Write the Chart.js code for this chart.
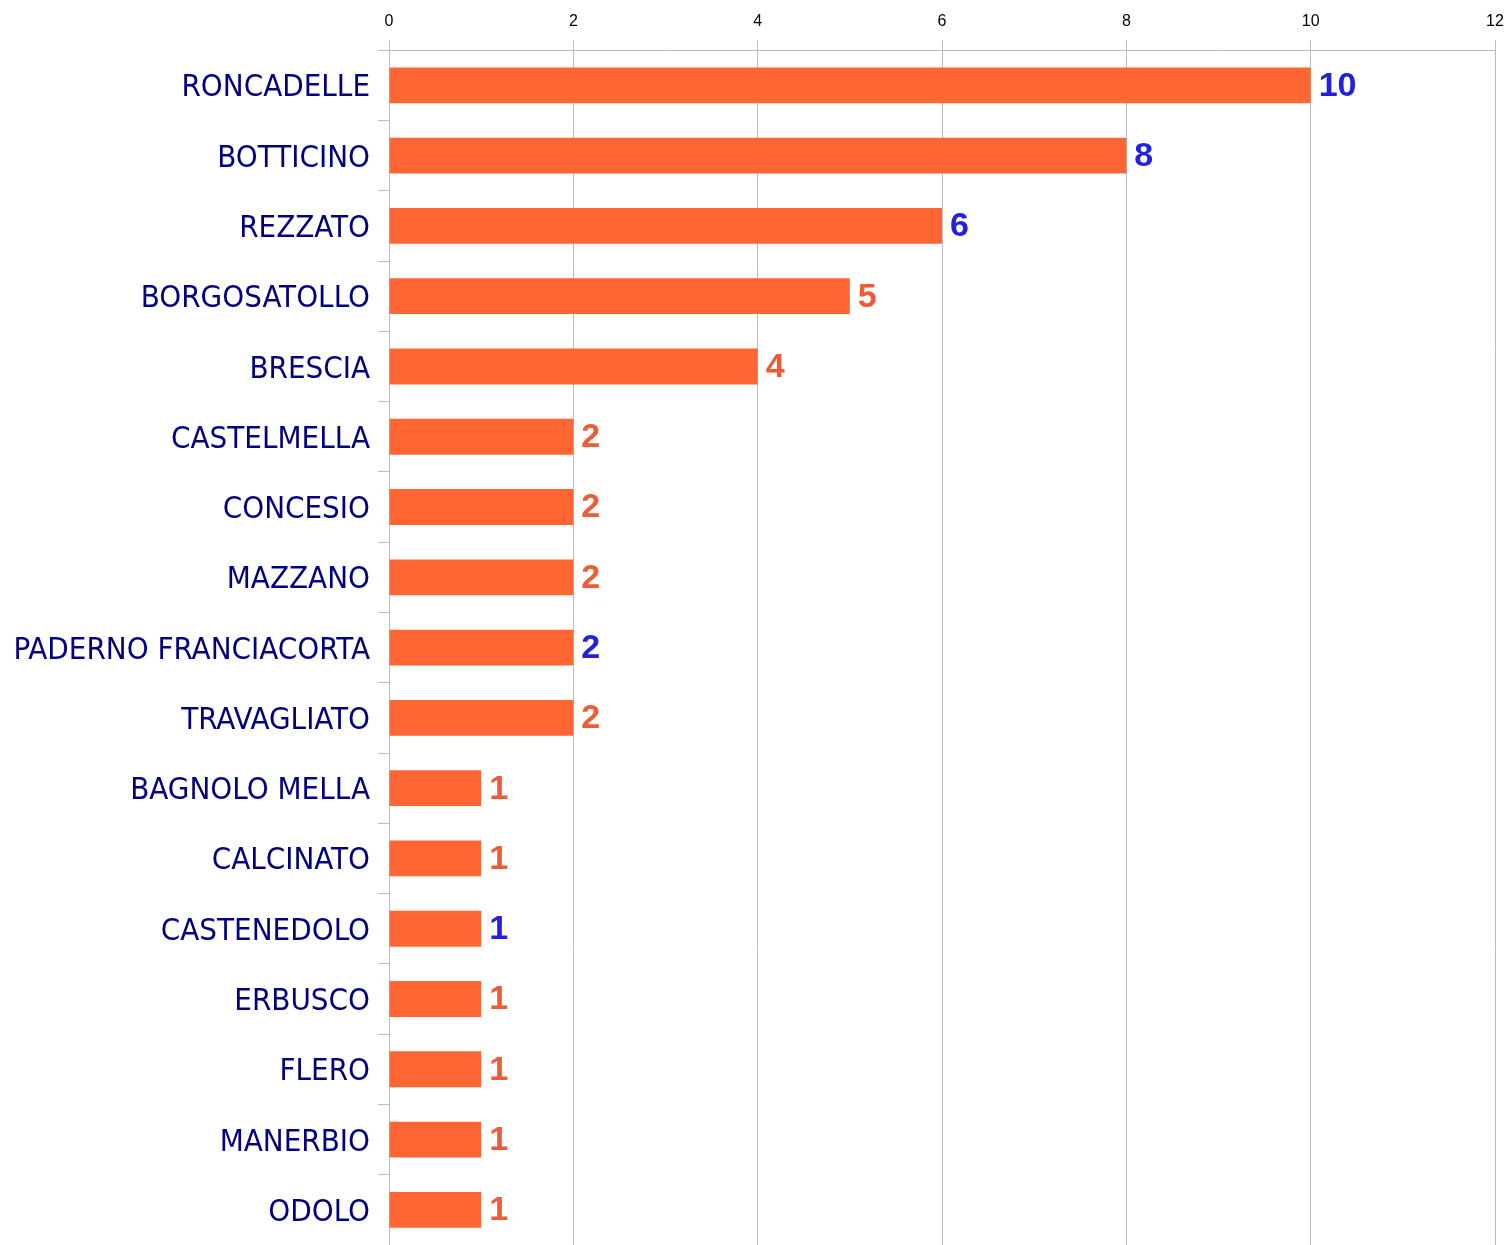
<!DOCTYPE html>
<html><head><meta charset="utf-8">
<script src="https://cdn.jsdelivr.net/npm/chart.js@4/dist/chart.umd.min.js"></script>
<style>html,body{margin:0;padding:0;background:#fff}#wrap{width:1508px;height:1245px}</style>
</head><body><div id="wrap"><canvas id="c"></canvas></div>
<script>
const categories = ["RONCADELLE","BOTTICINO","REZZATO","BORGOSATOLLO","BRESCIA","CASTELMELLA","CONCESIO","MAZZANO","PADERNO FRANCIACORTA","TRAVAGLIATO","BAGNOLO MELLA","CALCINATO","CASTENEDOLO","ERBUSCO","FLERO","MANERBIO","ODOLO"];
const values = [10,8,6,5,4,2,2,2,2,2,1,1,1,1,1,1,1];
const labelColors = ["#2222DD","#2222DD","#2222DD","#EE5B35","#EE5B35","#EE5B35","#EE5B35","#EE5B35","#2222DD","#EE5B35","#EE5B35","#EE5B35","#2222DD","#EE5B35","#EE5B35","#EE5B35","#EE5B35"];
const xTicks = [0,2,4,6,8,10,12];

const valueLabels = {
  id:'valueLabels',
  afterDatasetsDraw(chart){
    const ctx = chart.ctx;
    const meta = chart.getDatasetMeta(0);
    ctx.save();
    ctx.font = 'bold 34px "Liberation Sans", Arial, sans-serif';
    ctx.textAlign = 'left';
    ctx.textBaseline = 'middle';
    meta.data.forEach((bar,i)=>{
      ctx.fillStyle = labelColors[i];
      ctx.fillText(String(values[i]), bar.x + 8, bar.y + 1);
    });
    ctx.restore();
  }
};

new Chart(document.getElementById('c'), {
  type:'bar',
  data:{labels:categories, datasets:[{data:values, backgroundColor:'#FF6633', borderWidth:0, barPercentage:0.51, categoryPercentage:1}]},
  options:{
    indexAxis:'y', responsive:true, maintainAspectRatio:false, animation:false,
    layout:{padding:{top:3, right:13, left:0, bottom:0}},
    plugins:{legend:{display:false}, tooltip:{enabled:false}},
    scales:{
      x:{position:'top', min:0, max:12,
         afterBuildTicks(s){ s.ticks = xTicks.map(v=>({value:v})); },
         afterFit(s){ s.paddingRight = 0; s.paddingLeft = 0; },
         ticks:{color:'#000', font:{family:'"Liberation Sans", Arial, sans-serif', size:16}, padding:9},
         grid:{color:'#BBBBBB', lineWidth:1, tickLength:10},
         border:{color:'#BBBBBB'}},
      y:{afterFit(s){ s.width = 389; s.paddingTop = 0; s.paddingBottom = 0; },
         ticks:{color:'#000080', font:{family:'"DejaVu Sans Condensed", "DejaVu Sans", sans-serif', size:31}, padding:8, labelOffset:3},
         grid:{offset:true, drawOnChartArea:false, color:'#BBBBBB', tickLength:11},
         border:{color:'#BBBBBB'}}
    }
  },
  plugins:[valueLabels]
});
</script></body></html>
